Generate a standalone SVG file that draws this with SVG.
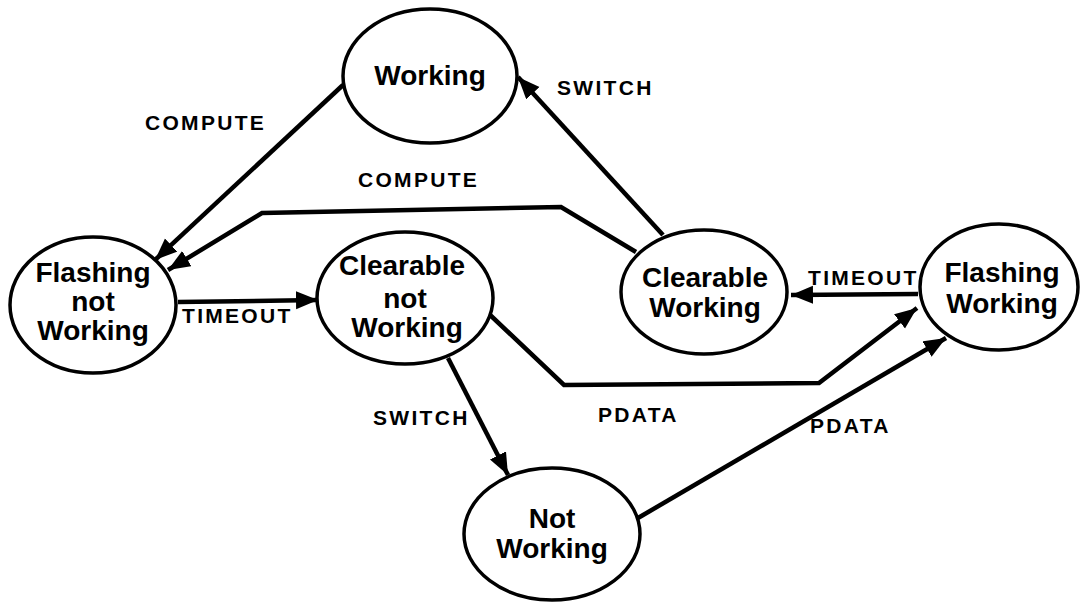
<svg xmlns="http://www.w3.org/2000/svg" width="1080" height="602" viewBox="0 0 1080 602">
<style>
.node ellipse{fill:#fff;stroke:#000;stroke-width:3.5}
.node text{font-family:"Liberation Sans",Arial,sans-serif;font-weight:bold;font-size:28px;text-anchor:middle;fill:#000}
.edge{fill:none;stroke:#000;stroke-width:4.5;stroke-linejoin:miter;marker-end:url(#arr)}
.lbl{font-family:"Liberation Sans",Arial,sans-serif;font-weight:bold;font-size:21px;letter-spacing:2.3px;fill:#000}
</style>
<defs>
<marker id="arr" markerUnits="userSpaceOnUse" markerWidth="24" markerHeight="20" refX="22" refY="9" orient="auto">
<path d="M0,0 L22,9 L0,18 Z" fill="#000"/>
</marker>
</defs>
<rect width="1080" height="602" fill="#fff"/>
<g id="connectors">
<line class="edge" x1="343" y1="85" x2="155" y2="260"/>
<polyline class="edge" points="636,252 561,207 262,213 168,270"/>
<line class="edge" x1="663" y1="235" x2="518" y2="77"/>
<line class="edge" x1="178" y1="302" x2="318" y2="300"/>
<line class="edge" x1="918" y1="294" x2="791" y2="295"/>
<polyline class="edge" points="488,313 564,385 819,383 917,308"/>
<line class="edge" x1="638" y1="518" x2="946" y2="338"/>
<line class="edge" x1="448" y1="358" x2="508" y2="475"/>
</g>
<g id="labels">
<text class="lbl" x="145" y="130">COMPUTE</text>
<text class="lbl" x="358" y="187">COMPUTE</text>
<text class="lbl" x="557" y="95">SWITCH</text>
<text class="lbl" x="182" y="323">TIMEOUT</text>
<text class="lbl" x="808" y="285">TIMEOUT</text>
<text class="lbl" x="598" y="422">PDATA</text>
<text class="lbl" x="810" y="433">PDATA</text>
<text class="lbl" x="373" y="425">SWITCH</text>
</g>
<g id="n-working" class="node"><ellipse cx="430" cy="76" rx="87" ry="67"/><text x="430" y="85">Working</text></g>
<g id="n-flashing-not-working" class="node"><ellipse cx="93" cy="305" rx="83" ry="68"/><text x="93" y="282">Flashing</text><text x="93" y="311">not</text><text x="93" y="340">Working</text></g>
<g id="n-clearable-not-working" class="node"><ellipse cx="405" cy="298" rx="88" ry="66"/><text x="402" y="275">Clearable</text><text x="405" y="308">not</text><text x="407" y="337">Working</text></g>
<g id="n-clearable-working" class="node"><ellipse cx="704" cy="292" rx="83" ry="62"/><text x="705" y="287">Clearable</text><text x="705" y="317">Working</text></g>
<g id="n-flashing-working" class="node"><ellipse cx="999" cy="287" rx="79" ry="63"/><text x="1002" y="282">Flashing</text><text x="1002" y="313">Working</text></g>
<g id="n-not-working" class="node"><ellipse cx="552" cy="534" rx="88" ry="66"/><text x="552" y="528">Not</text><text x="552" y="558">Working</text></g>
</svg>
